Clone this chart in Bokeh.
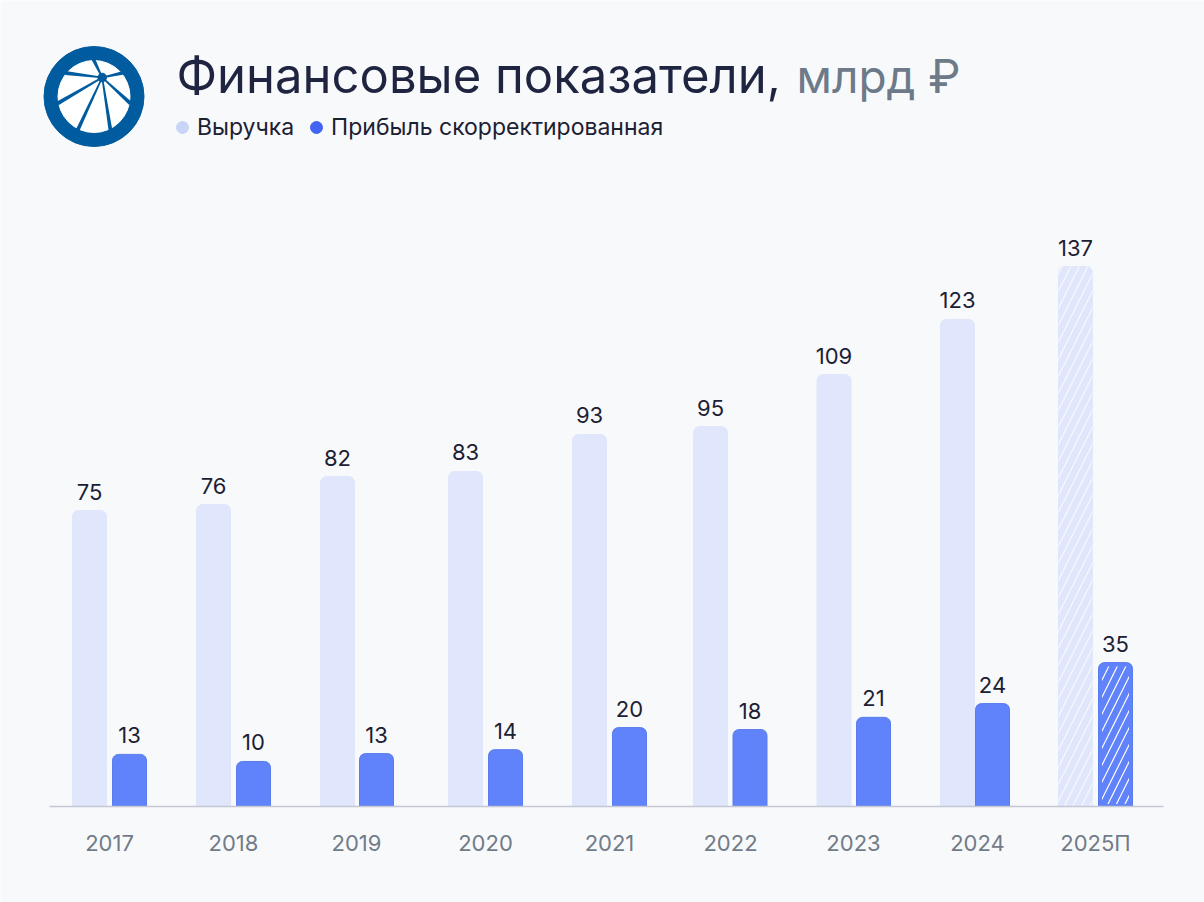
import math

from bokeh.core.properties import value
from bokeh.embed import file_html
from bokeh.models import FixedTicker, Label, Legend, LegendItem, Range1d
from bokeh.plotting import figure
from bokeh.resources import INLINE

years = ["2017", "2018", "2019", "2020", "2021", "2022", "2023", "2024", "2025П"]
# printed labels
revenue_labels = [75, 76, 82, 83, 93, 95, 109, 123, 137]
profit_labels = [13, 10, 13, 14, 20, 18, 21, 24, 35]
# bar heights as drawn in the picture, they differ a bit from the printed numbers
revenue_bars = [75.0, 76.5, 83.6, 84.9, 94.3, 96.3, 109.5, 123.5, 136.9]
profit_bars = [13.1, 11.3, 13.3, 14.3, 19.9, 19.4, 22.5, 26.0, 36.4]

# layout: columns are not evenly spaced in the original
year_x = [109, 233, 356, 485, 609, 730, 853, 977, 1095]
revenue_x = [89, 213, 337, 465, 589, 710, 833.5, 957, 1075]
profit_x = [129, 253, 376, 505, 629, 749.5, 873, 992, 1115]

BG = "#f8f9fb"
FONT = "Inter"
PX = 3.94  # pixels per billion
BASE = 805.5
W, H = 1204, 902

p = figure(width=W, height=H, output_backend="svg", toolbar_location=None,
           x_range=Range1d(0, W),
           y_range=Range1d((BASE - H) / PX, BASE / PX),
           min_border=0, outline_line_color=None,
           background_fill_color=BG, border_fill_color=BG)
p.grid.visible = False
p.yaxis.visible = False

# second y range in page pixels, for the logo
p.extra_y_ranges["px"] = Range1d(H, 0)

ax = p.xaxis[0]
ax.fixed_location = 0
ax.bounds = (49, 1163)
ax.ticker = FixedTicker(ticks=year_x)
ax.major_label_overrides = dict(zip(year_x, years))
ax.axis_line_color = "#c3c8d4"
ax.axis_line_width = 1.5
ax.major_tick_line_color = None
ax.minor_tick_line_color = None
ax.major_label_standoff = 18
ax.major_label_text_font = FONT
ax.major_label_text_font_size = "22px"
ax.major_label_text_color = "#717c88"

n = len(years) - 1  # last column is the forecast
radius = 6
p.vbar(x=revenue_x, top=revenue_bars, width=34, color="#e0e6fb", border_radius=(radius, radius, 0, 0))
p.vbar(x=profit_x, top=profit_bars, width=34, fill_color="#6083fb", line_color="#5a7ced",
       border_radius=(radius, radius, 0, 0))
# forecast hatching sits on top of the solid bars, a little inset
p.vbar(x=revenue_x[n:], top=revenue_bars[n:], width=34, fill_alpha=0, line_color=None,
       hatch_pattern="right_diagonal_line", hatch_color=BG, hatch_scale=17, hatch_weight=1.2,
       border_radius=(radius, radius, 0, 0))
p.vbar(x=profit_x[n:], top=[t - 1 for t in profit_bars[n:]], bottom=0.5, width=27, fill_alpha=0, line_color=None,
       hatch_pattern="right_diagonal_line", hatch_color="#ffffff", hatch_scale=17, hatch_weight=1.2)

for xs, tops, labels in [(revenue_x, revenue_bars, revenue_labels), (profit_x, profit_bars, profit_labels)]:
    p.text(x=xs, y=tops, text=[str(v) for v in labels], text_font=value(FONT), text_font_size="22px",
           text_color="#1c2033", text_align="center", text_baseline="middle", y_offset=-19)

# logo
p.circle(x=[93.5], y=[96], radius=50, color="#005b9f", y_range_name="px")
p.circle(x=[93.5], y=[96], radius=36, color="#ffffff", y_range_name="px")
hub = (101.7, 77)
spoke_ends = [(93, 59), (65, 72.5), (122, 72.5), (57, 103), (77, 130), (110, 130), (130, 103)]
spoke_xs, spoke_ys = [], []
for ex, ey in spoke_ends:
    # spokes get wider towards the rim
    d = math.hypot(ex - hub[0], ey - hub[1])
    nx, ny = -(ey - hub[1]) / d, (ex - hub[0]) / d
    spoke_xs.append([hub[0] + nx * 0.8, ex + nx * 1.9, ex - nx * 1.9, hub[0] - nx * 0.8])
    spoke_ys.append([hub[1] + ny * 0.8, ey + ny * 1.9, ey - ny * 1.9, hub[1] - ny * 0.8])
p.patches(xs=spoke_xs, ys=spoke_ys, color="#005b9f", line_width=0, y_range_name="px")
p.circle(x=[hub[0]], y=[hub[1]], radius=4.3, color="#005b9f", y_range_name="px")

# title
p.add_layout(Label(x=176, y=H - 104, x_units="screen", y_units="screen", text="Финансовые показатели,",
                   text_font=FONT, text_font_size="49px", text_color="#1f2540"))
p.add_layout(Label(x=796, y=H - 103, x_units="screen", y_units="screen", text="млрд ₽",
                   text_font=FONT, text_font_size="46px", text_color="#6d7a89"))

# legend, dots are a different shade than the bars
r1 = p.scatter(x=[float("nan")], y=[float("nan")], size=12, color="#c9d5f7")
r2 = p.scatter(x=[float("nan")], y=[float("nan")], size=12, color="#4165f2")
legend = Legend(items=[LegendItem(label="Выручка", renderers=[r1]),
                       LegendItem(label="Прибыль скорректированная", renderers=[r2])],
                orientation="horizontal", location=(167, H - 142), background_fill_alpha=0,
                border_line_color=None, label_text_font=FONT, label_text_font_size="23px",
                label_text_color="#1c2033", glyph_width=30, glyph_height=30, spacing=7, margin=0, padding=0,
                label_standoff=0)
p.add_layout(legend, "center")

open("out.html", "w").write(file_html(p, INLINE))
